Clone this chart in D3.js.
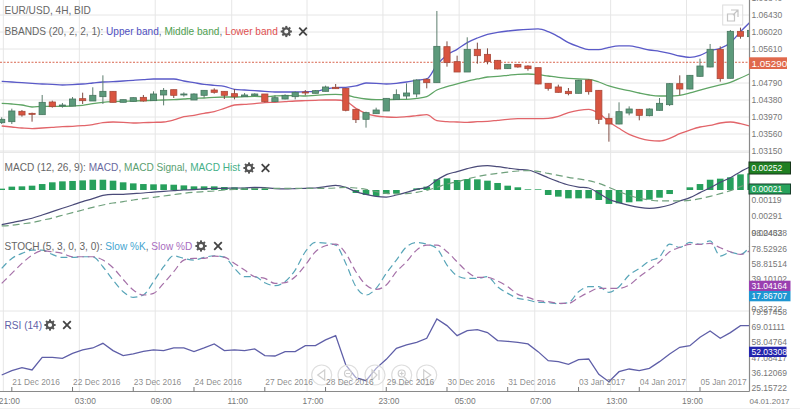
<!DOCTYPE html>
<html>
<head>
<meta charset="utf-8">
<script src="https://cdn.jsdelivr.net/npm/d3@7"></script>
<style>
html, body { margin: 0; padding: 0; background: #fff; overflow: hidden; }
text { font-family: "Liberation Sans", Arial, sans-serif; }
</style>
</head>
<body>
<div id="chart"></div>
<script>
const opens = [1.03833,1.03857,1.04107,1.04058,1.04026,1.04332,1.04243,1.04235,1.04412,1.04356,1.0446,1.04589,1.04324,1.04348,1.04444,1.04364,1.04501,1.04629,1.04509,1.0438,1.04493,1.04621,1.04589,1.04533,1.0446,1.04485,1.04525,1.0434,1.04404,1.0446,1.04573,1.04541,1.04589,1.04686,1.04661,1.04155,1.03914,1.0405,1.04115,1.04388,1.04476,1.04525,1.04879,1.04798,1.05666,1.05305,1.05055,1.05602,1.05481,1.05337,1.05136,1.0524,1.052,1.0516,1.04782,1.04694,1.04589,1.04541,1.04862,1.04613,1.03938,1.03801,1.04066,1.04155,1.04002,1.04131,1.04267,1.04774,1.04645,1.04951,1.05176,1.05602,1.04903,1.06036,1.05908]
const highs = [1.03962,1.04171,1.04139,1.04075,1.04501,1.04364,1.04308,1.04452,1.04557,1.04686,1.04975,1.04589,1.04388,1.04444,1.04501,1.04589,1.04669,1.04629,1.04565,1.04541,1.04613,1.04661,1.04589,1.04645,1.04549,1.04541,1.04525,1.04493,1.04517,1.04589,1.04621,1.04621,1.04726,1.04766,1.04661,1.04155,1.04099,1.04195,1.0442,1.04637,1.04782,1.04879,1.04903,1.06527,1.05795,1.05449,1.05892,1.05763,1.05626,1.05345,1.0524,1.05248,1.05216,1.0516,1.04782,1.0475,1.04669,1.04862,1.04879,1.04621,1.04058,1.04324,1.04227,1.04163,1.04179,1.04428,1.0479,1.04975,1.04983,1.05377,1.05731,1.05674,1.06068,1.06125,1.0606]
const lows = [1.03801,1.03801,1.03978,1.03857,1.04026,1.04195,1.04195,1.04235,1.04284,1.04356,1.04284,1.04324,1.04324,1.0434,1.0434,1.04356,1.04251,1.04428,1.0446,1.0438,1.04436,1.04533,1.04404,1.04396,1.04452,1.04476,1.04324,1.04332,1.04396,1.04396,1.04493,1.04541,1.04589,1.04653,1.04107,1.03825,1.03713,1.0405,1.04115,1.04388,1.04404,1.04444,1.04661,1.04798,1.05184,1.05055,1.05055,1.05256,1.0524,1.0512,1.05128,1.0516,1.05088,1.04758,1.04605,1.04557,1.04493,1.04541,1.04509,1.03801,1.03375,1.03793,1.0401,1.0389,1.03986,1.04123,1.04235,1.04501,1.04637,1.04943,1.05168,1.04822,1.04903,1.05859,1.05908]
const closes = [1.03914,1.04115,1.04018,1.04034,1.04324,1.04219,1.04259,1.04404,1.04364,1.04493,1.04589,1.04324,1.04388,1.04436,1.04356,1.04525,1.04613,1.04493,1.04525,1.04525,1.04613,1.04565,1.04493,1.0446,1.04501,1.04525,1.0434,1.04436,1.04493,1.04565,1.04557,1.04605,1.04694,1.04653,1.04131,1.03906,1.04075,1.04139,1.0442,1.04509,1.04549,1.04862,1.04798,1.05674,1.05281,1.05055,1.05602,1.05449,1.05305,1.05128,1.0524,1.05176,1.05136,1.04766,1.04661,1.04565,1.04533,1.04854,1.04581,1.03914,1.03801,1.04099,1.04163,1.0401,1.04163,1.043,1.04774,1.04645,1.04975,1.052,1.05602,1.04895,1.06036,1.05916,1.0606]

const upperBand = [1.0483,1.04814,1.04798,1.04782,1.04766,1.04758,1.04742,1.0475,1.04766,1.0479,1.04814,1.04822,1.04838,1.04854,1.0487,1.04887,1.04887,1.04887,1.04838,1.04798,1.04758,1.04734,1.0471,1.04637,1.04621,1.04605,1.04589,1.04573,1.04573,1.04573,1.04581,1.04589,1.04645,1.04678,1.04686,1.04718,1.0479,1.04782,1.04766,1.04782,1.04814,1.04854,1.04887,1.05224,1.05465,1.05602,1.05763,1.05875,1.05964,1.06012,1.06044,1.06068,1.06085,1.06093,1.06028,1.05908,1.05763,1.05666,1.05594,1.05594,1.0565,1.05683,1.05683,1.05642,1.05586,1.05554,1.05506,1.05441,1.05409,1.05457,1.0557,1.05626,1.05763,1.06028,1.06269]
const middleBand = [1.043,1.04284,1.04259,1.04211,1.04227,1.04227,1.04227,1.04235,1.04251,1.04292,1.04324,1.0434,1.04348,1.04356,1.04364,1.04372,1.0438,1.04388,1.04404,1.0442,1.04428,1.04444,1.04452,1.04452,1.0446,1.04468,1.0446,1.04476,1.04485,1.04485,1.04476,1.04493,1.04509,1.04517,1.04501,1.04444,1.04404,1.04388,1.04388,1.04396,1.04396,1.0442,1.0446,1.04621,1.04702,1.04766,1.04838,1.04887,1.04935,1.04951,1.04975,1.04999,1.05007,1.04991,1.04959,1.04927,1.04903,1.04887,1.04879,1.04814,1.04718,1.04653,1.04605,1.04549,1.04501,1.04476,1.04476,1.04493,1.04549,1.04621,1.04686,1.04742,1.04806,1.04911,1.05023]
const lowerBand = [1.03753,1.03729,1.03705,1.03689,1.03705,1.03721,1.03737,1.03745,1.03761,1.03785,1.03833,1.03849,1.03841,1.03825,1.03833,1.03841,1.03849,1.03898,1.03978,1.0401,1.04058,1.04099,1.04179,1.04259,1.04276,1.04292,1.04316,1.04324,1.0434,1.04356,1.04364,1.04372,1.0438,1.0438,1.04348,1.04179,1.04058,1.03994,1.0397,1.03962,1.03978,1.04002,1.04026,1.03882,1.03857,1.03849,1.03841,1.03857,1.03865,1.0389,1.03914,1.0393,1.0393,1.0393,1.03938,1.03986,1.04075,1.04131,1.04155,1.04058,1.03857,1.03697,1.03552,1.03463,1.03407,1.03391,1.03455,1.03568,1.03656,1.03729,1.03769,1.03825,1.03849,1.03809,1.03745]

const macdLine = [-0.00381,-0.0036,-0.00339,-0.00315,-0.00281,-0.00246,-0.00211,-0.00177,-0.00142,-0.00111,-0.00076,-0.00066,-0.00066,-0.00059,-0.00052,-0.00042,-0.00035,-0.00028,-0.00021,-0.00017,-0.0001,-0.00003,-0.00003,0,0,0.00007,0.00003,-0.00007,-0.0001,-0.00007,-0.00003,0,0.00014,0.00028,0.00007,-0.00038,-0.00066,-0.00087,-0.00094,-0.00073,-0.00045,-0.00014,0.00007,0.00083,0.00142,0.0017,0.00201,0.00225,0.00232,0.00222,0.00208,0.00194,0.00187,0.00152,0.00107,0.00066,0.00031,0.0001,0,-0.00055,-0.00118,-0.00152,-0.0018,-0.00201,-0.00211,-0.00201,-0.00177,-0.00135,-0.001,-0.00048,0.00003,0.00059,0.00107,0.0017,0.00222]
const macdSignal = [-0.00395,-0.00388,-0.00374,-0.0036,-0.00336,-0.00312,-0.00284,-0.00256,-0.00229,-0.00201,-0.00177,-0.00156,-0.00142,-0.00125,-0.00111,-0.00097,-0.00083,-0.00069,-0.00055,-0.00045,-0.00038,-0.00031,-0.00021,-0.00014,-0.0001,-0.00007,-0.00003,-0.00003,-0.00003,-0.00003,-0.00003,-0.00003,-0.00003,0,0.00007,0,-0.00014,-0.00038,-0.00055,-0.00062,-0.00059,-0.00045,-0.00024,0.00007,0.00042,0.00066,0.00094,0.00118,0.00139,0.00152,0.00166,0.00177,0.0018,0.00173,0.00152,0.00132,0.00111,0.00094,0.00076,0.00048,0.00007,-0.00038,-0.00076,-0.00107,-0.00125,-0.00135,-0.00135,-0.00135,-0.00128,-0.00111,-0.00087,-0.00059,-0.00028,0.00014,0.00048]
const macdHist = [0.00014,0.00035,0.00038,0.00045,0.00062,0.0008,0.0009,0.00094,0.001,0.00107,0.00107,0.00097,0.0008,0.00069,0.00062,0.00059,0.00059,0.00055,0.00048,0.00038,0.00038,0.00038,0.00031,0.00028,0.00024,0.00024,0.00017,0,0,0,0,0,0,0,0,-0.00031,-0.00052,-0.00062,-0.00042,-0.00038,0,0.00017,0.00035,0.00111,0.00121,0.00104,0.00114,0.00111,0.00097,0.00073,0.00045,0.00028,0.00007,0.00007,-0.00052,-0.00069,-0.00087,-0.00087,-0.00087,-0.00104,-0.00145,-0.00139,-0.00128,-0.00118,-0.001,-0.0008,-0.00042,0,0.00028,0.00062,0.00107,0.00118,0.00132,0.00163,0.00173]

const stochK = [52.42,65.39,71.87,76.2,76.2,70.58,66.69,66.69,67.55,67.55,54.58,37.29,22.16,14.81,17.84,35.13,54.58,68.85,65.39,63.23,66.69,68.85,67.12,52.42,41.61,41.61,33.83,29.94,35.13,50.26,74.04,86.14,85.28,82.68,58.9,28.64,17.84,26.48,45.94,63.23,80.52,86.14,83.98,78.36,56.74,42.91,39.45,39.45,41.61,28.64,20,13.51,11.35,8.33,7.89,6.6,7.89,22.16,28.64,28.64,21.3,28.64,43.77,52.42,61.93,67.55,83.98,79.66,86.14,83.55,88.3,68.42,73.17,70.58,82.68]
const stochD = [32.97,45.94,58.9,69.71,75.33,74.04,71.87,67.55,67.55,67.55,63.23,53.29,38.15,24.32,17.84,20,32.97,48.1,63.23,65.39,65.39,68.42,67.12,58.9,50.26,41.61,39.45,32.97,33.83,41.61,56.74,74.04,81.82,83.98,71.87,48.1,30.81,25.19,30.81,48.1,61.07,76.2,82.68,82.68,74.04,61.07,48.1,40.75,40.75,35.99,28.64,18.7,14.81,10.49,9.19,7.03,7.03,14.38,21.3,26.48,26.48,26.48,30.81,41.61,51.12,61.07,74.04,79.66,83.55,83.55,84.84,79.22,74.04,70.58,76.2]

const rsiLine = [34.33,37.46,39.63,37.94,47.11,47.11,46.39,50,52.42,53.86,57.24,51.93,48.32,49.52,51.45,52.42,51.93,53.86,53.86,51.21,53.86,56.76,51.93,52.42,51.93,53.14,48.32,48.07,51.21,51.21,55.55,55.55,59.65,62.79,41.56,32.4,30.23,39.15,45.66,53.62,56.03,57.96,60.86,74.85,70.02,62.79,66.4,67.13,64.96,59.17,58.69,57.96,56.76,51.21,44.7,43.97,42.04,45.42,45.9,34.81,29.5,36.74,38.67,37.46,39.15,43.97,49.52,54.34,55.55,61.58,66.16,60.86,64.96,70.02,70.02]

const priceTicks = [1.0684,1.0643,1.0602,1.0561,1.0479,1.0438,1.0397,1.0356,1.0315]
const macdTicks = [-0.00119,-0.00291,-0.00462]
const stochTicks = [98.24338,78.52926,58.81514,39.10102,-0.32722]
const rsiTicks = [79.97458,69.01111,58.04764,47.08417,36.12069,25.15722]
const gridBars = [0.16,7.67,15.17,22.73,30.17,37.67,45.2,52.67,60.17,67.67]
const timeLabels = ["21:00","03:00","09:00","11:00","17:00","23:00","05:00","07:00","13:00","19:00"]
const dateBars = [1,7,13,19,26,32,38,44,50,57,63,69]
const dateLabels = ["21 Dec 2016","22 Dec 2016","23 Dec 2016","24 Dec 2016","27 Dec 2016","28 Dec 2016","29 Dec 2016","30 Dec 2016","31 Dec 2016","03 Jan 2017","04 Jan 2017","05 Jan 2017"]

const w = 800, h = 410, plotRight = 749.5, axisY = 391.5
const textColor = "#777"

const svg = d3.select("#chart").append("svg").attr("width", w).attr("height", h)
  .style("display", "block")
svg.append("defs").append("clipPath").attr("id", "plot")
  .append("rect").attr("x", 0).attr("y", 0).attr("width", plotRight).attr("height", axisY)

const x = d3.scaleLinear().domain([0, 74]).range([1.7, 750.6])
const yPrice = d3.scaleLinear().domain([1.0643, 1.0315]).range([15, 151])
const yMacd = d3.scaleLinear().domain([0, -0.00462]).range([188, 232.4])
const yHist = d3.scaleLinear().domain([0, -0.00462]).range([190, 234.4])
const yStoch = d3.scaleLinear().domain([78.52926, -0.32722]).range([248.3, 309])
const yRsi = d3.scaleLinear().domain([69.01111, 25.15722]).range([327, 387.7])

// grid
const grid = svg.append("g").attr("stroke", "#e6e6e6").attr("stroke-width", 1)
grid.selectAll("line.v").data(gridBars).enter().append("line")
  .attr("class", "v")
  .attr("x1", d => x(d)).attr("x2", d => x(d))
  .attr("y1", 0).attr("y2", axisY)
grid.selectAll("line.h").data(priceTicks).enter().append("line")
  .attr("class", "h")
  .attr("x1", 0).attr("x2", plotRight)
  .attr("y1", d => yPrice(d)).attr("y2", d => yPrice(d))
grid.selectAll("line.p").data([-0.00462 + 0.00859, -0.32722]).enter().append("line")
  .attr("class", "p")
  .attr("x1", 0).attr("x2", plotRight)
  .attr("y1", (d, i) => i == 0 ? yMacd(d) + 2.5 : yStoch(d) + 2)
  .attr("y2", (d, i) => i == 0 ? yMacd(d) + 2.5 : yStoch(d) + 2)

const plot = svg.append("g").attr("clip-path", "url(#plot)")

function drawLine(data, yScale, color, dash, curve, width) {
  plot.append("path").datum(data)
    .attr("fill", "none")
    .attr("stroke", color)
    .attr("stroke-width", width || 1.2)
    .attr("stroke-dasharray", dash)
    .attr("d", d3.line().x((d, i) => x(i)).y(d => yScale(d)).curve(curve))
}

// current price line
plot.append("line")
  .attr("x1", 0).attr("x2", plotRight)
  .attr("y1", yPrice(1.0529)).attr("y2", yPrice(1.0529))
  .attr("stroke", "#d8664e").attr("stroke-width", 1).attr("stroke-dasharray", "2,1.5")

// bands
drawLine(upperBand, yPrice, "#5a5ac8", null, d3.curveMonotoneX, 1.3)
drawLine(middleBand, yPrice, "#5fa565", null, d3.curveMonotoneX, 1.3)
drawLine(lowerBand, yPrice, "#e2656a", null, d3.curveMonotoneX, 1.3)

// candles
const candles = plot.append("g").selectAll("g").data(opens).enter().append("g")
candles.append("line")
  .attr("x1", (d, i) => x(i)).attr("x2", (d, i) => x(i))
  .attr("y1", (d, i) => yPrice(highs[i])).attr("y2", (d, i) => yPrice(lows[i]))
  .attr("stroke", (d, i) => closes[i] > d ? "#5d7d6e" : "#7d4a40")
candles.append("rect")
  .attr("x", (d, i) => x(i) - 3.1)
  .attr("y", (d, i) => yPrice(Math.max(d, closes[i])))
  .attr("width", 6.2)
  .attr("height", (d, i) => Math.max(1, Math.abs(yPrice(d) - yPrice(closes[i]))))
  .attr("fill", (d, i) => closes[i] > d ? "#5c9a7b" : "#d95440")
  .attr("stroke", (d, i) => closes[i] > d ? "#47765f" : "#a8493a")
  .attr("stroke-width", 0.8)

// macd
plot.append("g").selectAll("rect").data(macdHist).enter().append("rect")
  .attr("x", (d, i) => x(i) - 3.3)
  .attr("y", d => Math.min(yHist(d), yHist(0)))
  .attr("width", 6.6)
  .attr("height", d => Math.abs(yHist(d) - yHist(0)))
  .attr("fill", "#27a05c")
drawLine(macdLine, yMacd, "#4a4a78", null, d3.curveMonotoneX, 1.2)
drawLine(macdSignal, yMacd, "#6fa07c", "7,4", d3.curveMonotoneX, 1.2)

// stoch
drawLine(stochK, yStoch, "#58a5b8", "7,4", d3.curveMonotoneX, 1.2)
drawLine(stochD, yStoch, "#a570a8", "7,4", d3.curveMonotoneX, 1.2)

// rsi
drawLine(rsiLine, yRsi, "#5f5fa8", null, d3.curveLinear, 1.3)

// nav buttons
const navX = [321.7, 348, 375, 401.7, 426.7]
const nav = svg.append("g").selectAll("g").data(navX).enter().append("g")
  .attr("transform", d => "translate(" + d + ",375)")
nav.append("circle").attr("r", 10)
  .attr("fill", "#fff").attr("fill-opacity", 0.45)
  .attr("stroke", "#dedede").attr("stroke-width", 1.2)
nav.append("path")
  .attr("d", (d, i) => [
    "M3,-5L-4,0L3,5Z",
    "M-3.5,-1.5a3.5,3.5 0 1 0 7,0a3.5,3.5 0 1 0 -7,0M-2,-1.5L2,-1.5M2,1.5L5,5",
    "M-3,-5L2,0L-3,5ZM4,-5L4,5",
    "M-3.5,-1.5a3.5,3.5 0 1 0 7,0a3.5,3.5 0 1 0 -7,0M-2,-1.5L2,-1.5M0,-3.5L0,0.5M2,1.5L5,5",
    "M-3,-5L4,0L-3,5Z"
  ][i])
  .attr("fill", "none").attr("stroke", "#cfcfcf").attr("stroke-width", 1.2)

// date and time axis
const bottom = svg.append("g")
bottom.append("line")
  .attr("x1", 0).attr("x2", plotRight)
  .attr("y1", axisY).attr("y2", axisY)
  .attr("stroke", "#8a8a8a").attr("stroke-width", 1.2)
bottom.append("line")
  .attr("x1", 0).attr("x2", w)
  .attr("y1", 408.5).attr("y2", 408.5)
  .attr("stroke", "#f0f0f0")
bottom.selectAll("line.tick").data(dateBars).enter().append("line")
  .attr("class", "tick")
  .attr("x1", d => x(d)).attr("x2", d => x(d))
  .attr("y1", 387).attr("y2", axisY)
  .attr("stroke", "#777")
bottom.selectAll("text.date").data(dateBars).enter().append("text")
  .attr("class", "date")
  .attr("x", d => x(d) + 0.5).attr("y", 385)
  .attr("font-size", 8.4).attr("fill", "#777")
  .attr("fill-opacity", 0.85)
  .text((d, i) => dateLabels[i])
bottom.selectAll("text.time").data(gridBars).enter().append("text")
  .attr("class", "time")
  .attr("x", d => x(d) + 6).attr("y", 404)
  .attr("text-anchor", "middle")
  .attr("font-size", 8.4).attr("fill", textColor)
  .text((d, i) => timeLabels[i])
bottom.append("text").attr("x", 749.5).attr("y", 404)
  .attr("font-size", 8).attr("fill", textColor).text("04.01.2017")

// right axes
svg.append("line")
  .attr("x1", plotRight).attr("x2", plotRight)
  .attr("y1", 0).attr("y2", axisY)
  .attr("stroke", "#8a8a8a").attr("stroke-width", 1.2)

function rightAxis(scale, ticks, fmt) {
  const g = svg.append("g")
    .attr("transform", "translate(" + plotRight + ",0)")
    .call(d3.axisRight(scale).tickValues(ticks).tickFormat(fmt).tickSize(0).tickPadding(2))
  g.select(".domain").remove()
  g.selectAll("text")
    .attr("font-family", "Liberation Sans, Arial, sans-serif")
    .attr("font-size", 8.5)
    .attr("fill", textColor)
}
rightAxis(yPrice, priceTicks, d => d.toFixed(5))
rightAxis(yMacd, macdTicks, d => Math.abs(d).toFixed(5))
rightAxis(yStoch, stochTicks, d => Math.abs(d).toFixed(5))
rightAxis(yRsi, rsiTicks, d => d.toFixed(5))

// value flags
function flag(label, yTop, height, width, color, border, size) {
  svg.append("rect")
    .attr("x", plotRight - 0.5).attr("y", yTop)
    .attr("width", width).attr("height", height)
    .attr("fill", color).attr("stroke", border).attr("stroke-width", border == "none" ? 0 : 1)
  svg.append("text")
    .attr("x", plotRight + 2).attr("y", yTop + height / 2 + size * 0.36)
    .attr("font-size", size).attr("fill", "#fff").text(label)
}
flag("1.05290", 57.3, 11.7, 38, "#e0694c", "none", 9.9)
flag("0.00252", 162, 12, 41.5, "#1f7f22", "#17361a", 8.5)
flag("0.00021", 184, 10, 41.5, "#27a25c", "#173f2a", 8.5)
flag("31.04164", 280.7, 10.3, 41.5, "#9a3fb0", "none", 8.5)
flag("17.86707", 291, 10.3, 41.5, "#1e96d2", "none", 8.5)
flag("52.03308", 346.7, 10.3, 37.5, "#2424ac", "none", 8.5)

// legends
function legend(yPos, parts) {
  const t = svg.append("text").attr("x", 4.5).attr("y", yPos).attr("font-size", 10.1)
  parts.forEach(function (p) {
    t.append("tspan").attr("fill", p[1]).text(p[0])
  })
}
function controls(gearX, closeX, yc) {
  const gear = svg.append("g").attr("transform", "translate(" + gearX + "," + yc + ")")
  gear.append("circle").attr("r", 3.2).attr("fill", "none").attr("stroke", "#555").attr("stroke-width", 2.2)
  gear.selectAll("rect").data(d3.range(8)).enter().append("rect")
    .attr("x", -1).attr("y", -5.6).attr("width", 2).attr("height", 2.2)
    .attr("fill", "#555")
    .attr("transform", d => "rotate(" + d * 45 + ")")
  svg.append("path")
    .attr("d", "M-3.8,-3.8L3.8,3.8M-3.8,3.8L3.8,-3.8")
    .attr("transform", "translate(" + closeX + "," + yc + ")")
    .attr("stroke", "#444").attr("stroke-width", 1.8).attr("fill", "none")
}
svg.append("text").attr("x", 4.5).attr("y", 14.2).attr("font-size", 10.1).attr("fill", "#666").text("EUR/USD, 4H, BID")
legend(34.5, [["BBANDS (20, 2, 2, 1): ", "#666"], ["Upper band", "#5050c0"], [", ", "#666"], ["Middle band", "#4fa050"], [", ", "#666"], ["Lower band", "#e05050"]])
controls(286.3, 303, 31.5)
legend(171.2, [["MACD (12, 26, 9): ", "#666"], ["MACD", "#6a6aa0"], [", ", "#666"], ["MACD Signal", "#5aa070"], [", ", "#666"], ["MACD Hist", "#45b088"]])
controls(249, 265.5, 168)
legend(249.5, [["STOCH (5, 3, 0, 3, 0): ", "#666"], ["Slow %K", "#45a5d0"], [", ", "#666"], ["Slow %D", "#a86cc0"]])
controls(201, 218, 246)
legend(328.5, [["RSI (14)", "#5f5fa8"]])
controls(50, 67, 325)

// export button
svg.append("rect").attr("x", 722.7).attr("y", 5).attr("width", 20).attr("height", 20)
  .attr("fill", "#fff").attr("fill-opacity", 0.6).attr("stroke", "#dcdcdc")
svg.append("path")
  .attr("d", "M727.5,14L727.5,21L734.5,21L734.5,14ZM731,10L738,10L738,17M733,15L738,10")
  .attr("fill", "none").attr("stroke", "#c4c4c4").attr("stroke-width", 1.2)
</script>
</body>
</html>
